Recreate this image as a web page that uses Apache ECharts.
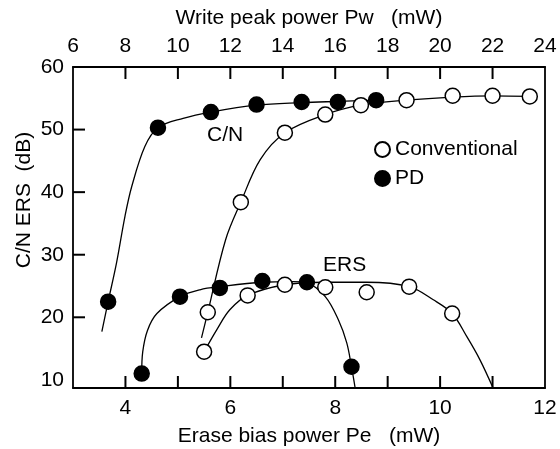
<!DOCTYPE html>
<html>
<head>
<meta charset="utf-8">
<script src="https://cdn.jsdelivr.net/npm/echarts@6/dist/echarts.min.js"></script>
<style>
html,body{margin:0;padding:0;background:#fff;}
#chart{width:560px;height:449px;}
</style>
</head>
<body>
<div id="chart"></div>
<script>
// ---- axes / ticks ----
const peMin = 3, peMax = 12;          // Erase bias power Pe (mW), bottom
const pwMin = 6, pwMax = 24;          // Write peak power Pw (mW), top
const yMin = 8.7, yMax = 60;          // C/N, ERS (dB)
const bottomLabels = [4, 6, 8, 10, 12];
const bottomTicks = [4, 5, 6, 7, 8, 9, 10, 11];
const topTicks = [8, 10, 12, 14, 16, 18, 20, 22];
const yLabels = [10, 20, 30, 40, 50, 60];
const yTicks = [20, 30, 40, 50];

// ---- measured points (Pe, dB) ----
const cnPD = [[3.67,22.5],[4.62,50.3],[5.63,52.8],[6.50,54.0],[7.36,54.4],[8.05,54.4],[8.78,54.7]];
const cnConv = [[5.57,20.8],[6.20,38.4],[7.04,49.5],[7.81,52.4],[8.49,53.9],[9.36,54.7],[10.24,55.4],[11.00,55.4],[11.71,55.3]];
const ersPD = [[4.31,11.0],[5.04,23.3],[5.80,24.7],[6.61,25.8],[7.46,25.6],[8.31,12.1]];
const ersConv = [[5.50,14.5],[6.33,23.5],[7.04,25.2],[7.81,24.8],[8.60,24.0],[9.41,24.9],[10.23,20.6]];

// ---- fitted curves as drawn in the figure ----
const cnPDCurve = [[3.55,17.7],[3.67,22.5],[3.83,28.7],[3.99,36.1],[4.12,40.9],[4.37,47.3],[4.62,50.3],[5.10,51.8],[5.63,52.8],[6.50,53.9],[7.36,54.3],[8.05,54.5],[8.78,54.7]];
const cnConvCurve = [[5.45,16.7],[5.57,20.8],[5.91,32.4],[6.20,38.4],[6.57,45.2],[7.04,49.5],[7.81,52.4],[8.49,53.9],[9.36,54.7],[10.24,55.2],[11.00,55.4],[11.71,55.3]];
const ersPDCurve = [[4.31,11.0],[4.33,14.5],[4.42,17.9],[4.60,20.6],[5.04,23.3],[5.42,24.4],[5.80,24.9],[6.61,25.6],[7.20,25.7],[7.46,25.5],[7.81,23.3],[8.06,19.6],[8.22,15.9],[8.31,12.1],[8.38,8.7]];
const ersConvCurve = [[5.50,14.5],[5.74,18.0],[5.99,21.2],[6.33,23.5],[7.04,25.2],[7.81,25.6],[8.60,25.6],[9.41,24.9],[9.87,22.8],[10.23,20.6],[10.51,16.9],[10.76,13.2],[11.01,8.7]];

const FONT = 'Liberation Sans, Arial, sans-serif';
const INK = '#000';
const TICK_LEN = 12;
const TICK_W = 2;

const chart = echarts.init(document.getElementById('chart'), null, {renderer:'canvas'});

function curve(name, data){
  return {name:name, type:'line', data:data, smooth:0.35, symbol:'none',
    lineStyle:{color:INK, width:1.3}, z:2, silent:true};
}
function pts(name, data, filled){
  return {name:name, type:'scatter', data:data, symbolSize:15,
    itemStyle:{color: filled ? INK : '#fff', borderColor:INK, borderWidth:1.5, opacity:1}, z:5};
}
// inward ticks drawn as small filled rects through the axes' own scales
function ticks(name, data, xAxisIndex, dir){
  return {name:name, type:'custom', xAxisIndex:xAxisIndex, yAxisIndex:0, data:data,
    clip:false, silent:true, z:30,
    renderItem:function(params, api){
      const p = api.coord([api.value(0), api.value(1)]);
      let shape;
      if (dir === 'up')   shape = {x:p[0]-TICK_W/2, y:p[1]-TICK_LEN, width:TICK_W, height:TICK_LEN};
      if (dir === 'down') shape = {x:p[0]-TICK_W/2, y:p[1], width:TICK_W, height:TICK_LEN};
      if (dir === 'right') shape = {x:p[0], y:p[1]-TICK_W/2, width:TICK_LEN, height:TICK_W};
      return {type:'rect', shape:shape, style:{fill:INK}};
    }};
}

chart.setOption({
  animation:false,
  backgroundColor:'#fff',
  grid:{left:73, right:15, top:67, bottom:61, outerBoundsMode:'none', containLabel:false},
  textStyle:{fontFamily:FONT},
  legend:{
    data:['Conventional','PD'], orient:'vertical', left:369, top:134,
    icon:'circle', itemWidth:15, itemHeight:15, itemGap:8,
    textStyle:{fontFamily:FONT, fontSize:21, color:INK}, selectedMode:false
  },
  xAxis:[
    {type:'value', position:'bottom', min:peMin, max:peMax, interval:1,
     name:'Erase bias power Pe   (mW)', nameLocation:'middle', nameGap:38,
     nameTextStyle:{fontFamily:FONT, fontSize:21, color:INK},
     axisLine:{show:true, onZero:false, lineStyle:{color:INK, width:1.8}},
     axisTick:{show:false},
     axisLabel:{fontFamily:FONT, fontSize:21, color:INK, margin:10,
       formatter:v => bottomLabels.indexOf(v) >= 0 ? String(v) : ''},
     splitLine:{show:false}},
    {type:'value', position:'top', min:pwMin, max:pwMax, interval:2,
     name:'Write peak power Pw   (mW)', nameLocation:'middle', nameGap:38,
     nameTextStyle:{fontFamily:FONT, fontSize:21, color:INK},
     axisLine:{show:true, onZero:false, lineStyle:{color:INK, width:1.8}},
     axisTick:{show:false},
     axisLabel:{fontFamily:FONT, fontSize:21, color:INK, margin:10},
     splitLine:{show:false}}
  ],
  yAxis:[
    {type:'value', position:'left', min:yMin, max:yMax,
     axisLine:{show:true, onZero:false, lineStyle:{color:INK, width:1.8}},
     axisTick:{show:false},
     axisLabel:{fontFamily:FONT, fontSize:21, color:INK, margin:9, customValues:yLabels},
     splitLine:{show:false}},
    {type:'value', position:'right', min:yMin, max:yMax,
     axisLine:{show:true, onZero:false, lineStyle:{color:INK, width:1.8}},
     axisTick:{show:false}, axisLabel:{show:false}, splitLine:{show:false}}
  ],
  graphic:[
    {type:'text', x:24, y:200, rotation:Math.PI/2,
     style:{text:'C/N ERS  (dB)', fontFamily:FONT, fontSize:21, fill:INK, align:'center', verticalAlign:'middle'}},
    {type:'text', left:207, top:125, style:{text:'C/N', fontFamily:FONT, fontSize:21, fill:INK}},
    {type:'text', left:323, top:255, style:{text:'ERS', fontFamily:FONT, fontSize:21, fill:INK}}
  ],
  series:[
    ticks('bottomTicks', bottomTicks.map(v => [v, yMin]), 0, 'up'),
    ticks('topTicks', topTicks.map(v => [v, yMax]), 1, 'down'),
    ticks('leftTicks', yTicks.map(v => [peMin, v]), 0, 'right'),
    curve('cnPDCurve', cnPDCurve),
    curve('cnConvCurve', cnConvCurve),
    curve('ersPDCurve', ersPDCurve),
    curve('ersConvCurve', ersConvCurve),
    pts('Conventional', cnConv, false),
    pts('PD', cnPD, true),
    pts('Conventional', ersConv, false),
    pts('PD', ersPD, true)
  ]
});
</script>
</body>
</html>
